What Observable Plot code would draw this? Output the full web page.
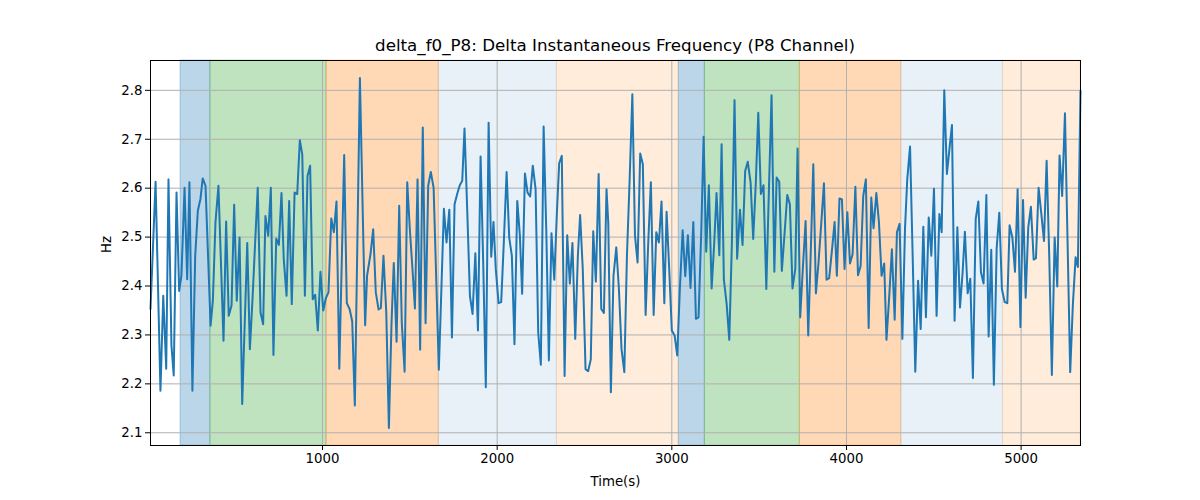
<!DOCTYPE html>
<html>
<head>
<meta charset="utf-8">
<script src="https://cdn.jsdelivr.net/npm/d3@7"></script>
<script src="https://cdn.jsdelivr.net/npm/@observablehq/plot@0.6"></script>
<style>
  body { margin: 0; background: #fff; }
  #wrap { width: 1200px; height: 500px; position: relative; font-family: "DejaVu Sans", sans-serif; }
  #title { position: absolute; left: 150px; width: 930px; top: 35px; text-align: center; font-size: 16.7px; line-height: 20px; color: #000; }
  #chart { position: absolute; left: 0; top: 56px; }
</style>
</head>
<body>
<div id="wrap">
  <div id="title">delta_f0_P8: Delta Instantaneous Frequency (P8 Channel)</div>
  <div id="chart"></div>
</div>
<script>
const titleText = "delta_f0_P8: Delta Instantaneous Frequency (P8 Channel)";
const xLabel = "Time(s)";
const yLabel = "Hz";
const xTicks = [1000, 2000, 3000, 4000, 5000];
const yTicks = [2.1, 2.2, 2.3, 2.4, 2.5, 2.6, 2.7, 2.8];

const times = [15,44,72,88,105,118,135,148,164,179,192,210,225,238,255,271,286,301,314,330,359,372,387,404,433,448,463,479,494,509,525,540,569,584,599,629,645,660,
673,689,704,719,735,750,765,778,794,809,824,840,855,870,884,899,914,929,944,958,973,988,1004,1019,1034,1050,1065,1080,1096,1110,1124,1139,1155,1170,1185,1214,1244,1255,1275,1290,1305,1321,
1334,1349,1365,1380,1395,1408,1424,1439,1454,1470,1485,1500,1515,1529,1544,1559,1574,1590,1605,1620,1636,1666,1695,1710,1726,1741,1756,1771,1786,1800,1813,1829,1844,1859,1875,1890,1905,1920,1935,1951,1966,1979,
1992,2008,2023,2038,2054,2069,2084,2099,2115,2130,2143,2159,2174,2189,2204,2220,2235,2250,2266,2281,2296,2311,2327,2342,2355,2370,2386,2401,2416,2431,2447,2462,2475,2490,2506,2521,2536,2550,2565,2581,2596,2611,2626,
2636,2651,2666,2682,2697,2712,2728,2743,2758,2774,2789,2804,2819,2834,2850,2865,2880,2896,2911,2926,2941,2957,2970,2985,3000,3016,3031,3046,3062,3077,3092,3107,3123,3138,3153,3169,3182,3197,3212,3228,3243,3256,3272,3285,
3298,3314,3329,3344,3359,3374,3390,3405,3420,3435,3451,3466,3481,3495,3510,3525,3541,3556,3571,3587,3600,3615,3630,3646,3661,3676,3691,3707,3720,3735,3750,3766,3781,3796,3810,3825,3840,3856,3871,3886,3901,3916,3932,3945,3960,
3974,3989,4005,4020,4035,4051,4066,4081,4096,4111,4127,4142,4155,4171,4186,4201,4216,4229,4245,4260,4276,4289,4304,4320,4335,4348,4364,4379,4394,4410,4425,4440,4455,4471,4486,4501,4516,4532,4545,4560,4575,4591,4604,
4619,4635,4650,4665,4678,4694,4709,4724,4740,4755,4770,4785,4801,4814,4829,4844,4860,4875,4890,4906,4921,4934,4950,4965,4980,4996,5011,5026,5041,5056,5072,5085,5100,5115,5131,5146,5161,5176,5192,5207,5220,5235,5251,5266,5281,5296,5312,5325,5340];

const hz = [2.353,2.613,2.186,2.380,2.231,2.618,2.278,2.217,2.591,2.390,2.421,2.601,2.414,2.612,2.186,2.462,2.554,2.578,2.620,2.605,2.319,2.370,2.530,2.605,2.288,2.532,2.339,2.360,2.566,2.370,2.499,2.159,2.488,2.271,2.373,2.601,2.346,2.322,
2.543,2.503,2.601,2.259,2.497,2.484,2.590,2.455,2.380,2.574,2.363,2.591,2.588,2.698,2.669,2.380,2.625,2.646,2.373,2.382,2.309,2.429,2.350,2.375,2.387,2.538,2.510,2.573,2.231,2.448,2.668,2.365,2.353,2.328,2.156,2.825,2.320,2.421,2.466,2.516,2.387,2.352,
2.355,2.462,2.346,2.110,2.324,2.447,2.286,2.564,2.324,2.225,2.612,2.516,2.435,2.354,2.618,2.270,2.724,2.324,2.605,2.633,2.601,2.229,2.558,2.489,2.556,2.295,2.567,2.588,2.606,2.615,2.722,2.550,2.380,2.343,2.467,2.309,2.665,2.448,2.193,2.734,2.460,2.531,
2.435,2.365,2.367,2.489,2.633,2.499,2.462,2.281,2.574,2.503,2.384,2.630,2.591,2.583,2.646,2.598,2.305,2.239,2.726,2.516,2.248,2.508,2.413,2.550,2.651,2.666,2.216,2.504,2.405,2.488,2.292,2.462,2.545,2.435,2.230,2.226,2.250,2.512,2.409,2.629,2.353,2.345,2.598,
2.530,2.183,2.421,2.479,2.394,2.271,2.224,2.462,2.612,2.792,2.503,2.448,2.671,2.649,2.341,2.489,2.612,2.341,2.510,2.489,2.573,2.365,2.552,2.435,2.309,2.299,2.258,2.394,2.514,2.420,2.504,2.396,2.531,2.333,2.336,2.516,2.705,2.470,2.606,2.395,2.489,2.590,2.463,2.690,
2.413,2.363,2.290,2.489,2.780,2.456,2.556,2.484,2.635,2.654,2.612,2.496,2.612,2.754,2.588,2.606,2.394,2.598,2.790,2.429,2.622,2.613,2.431,2.510,2.586,2.567,2.395,2.435,2.681,2.336,2.435,2.533,2.299,2.475,2.649,2.385,2.448,2.530,2.610,2.413,2.416,2.470,2.531,2.421,2.579,
2.577,2.435,2.551,2.446,2.465,2.603,2.422,2.441,2.584,2.618,2.314,2.581,2.518,2.590,2.530,2.421,2.446,2.290,2.380,2.475,2.331,2.510,2.527,2.292,2.516,2.618,2.685,2.462,2.225,2.411,2.312,2.521,2.336,2.540,2.462,2.599,2.339,2.547,2.510,2.800,2.629,2.685,2.729,
2.329,2.520,2.356,2.428,2.511,2.385,2.415,2.212,2.537,2.573,2.428,2.405,2.586,2.297,2.474,2.198,2.477,2.550,2.394,2.367,2.365,2.524,2.499,2.429,2.598,2.316,2.576,2.376,2.520,2.562,2.454,2.457,2.601,2.550,2.492,2.656,2.462,2.218,2.499,2.399,2.667,2.584,2.753,2.490,2.224,2.360,2.459,2.439,2.799];

const bandStart = [187, 358, 1023, 1666, 2342, 3040, 3189, 3733, 4314, 4896];
const bandEnd   = [358, 1023, 1666, 2342, 3040, 3189, 3733, 4314, 4896, 5340];
const bandColor = ["#1f77b4", "#2ca02c", "#ff7f0e", "#1f77b4", "#ff7f0e", "#1f77b4", "#2ca02c", "#ff7f0e", "#1f77b4", "#ff7f0e"];
const bandAlpha = [0.3, 0.3, 0.3, 0.1, 0.15, 0.3, 0.3, 0.3, 0.1, 0.15];

const series = times.map((t, i) => ({t, v: hz[i]}));
const bands = bandStart.map((s, i) => ({s, e: bandEnd[i], c: bandColor[i], a: bandAlpha[i]}));

const chart = Plot.plot({
  width: 1200,
  height: 444,
  marginLeft: 150,
  marginRight: 120,
  marginTop: 4,
  marginBottom: 55,
  style: {fontFamily: "DejaVu Sans, sans-serif", fontSize: "13.3px", color: "#000", background: "#fff"},
  x: {domain: [15, 5340], ticks: xTicks, tickSize: 5, tickPadding: 3, label: null, tickFormat: d3.format("d")},
  y: {domain: [2.074, 2.861], ticks: yTicks, tickSize: 5, tickPadding: 3, label: null, tickFormat: d3.format(".1f")},
  marks: [
    Plot.rect(bands, {x1: "s", x2: "e", fill: d => d.c, fillOpacity: d => d.a, stroke: d => d.c, strokeOpacity: d => d.a, strokeWidth: 1}),
    Plot.gridX(xTicks, {stroke: "#b0b0b0", strokeOpacity: 1, strokeWidth: 1}),
    Plot.gridY(yTicks, {stroke: "#b0b0b0", strokeOpacity: 1, strokeWidth: 1}),
    Plot.line(series, {x: "t", y: "v", stroke: "#1f77b4", strokeWidth: 2}),
    Plot.axisX(xTicks, {tickSize: 5, tickPadding: 3, tickFormat: d3.format("d"), label: null}),
    Plot.axisY(yTicks, {tickSize: 5, tickPadding: 3, tickFormat: d3.format(".1f"), label: null}),
    Plot.text([xLabel], {frameAnchor: "bottom", dy: 40, text: d => d, fontSize: 13.3}),
    Plot.text([yLabel], {frameAnchor: "left", dx: -44, rotate: -90, text: d => d, fontSize: 13.3}),
    Plot.frame({stroke: "#000", strokeWidth: 1})
  ]
});
chart.setAttribute("clip-path", null);
document.getElementById("chart").appendChild(chart);
</script>
</body>
</html>
